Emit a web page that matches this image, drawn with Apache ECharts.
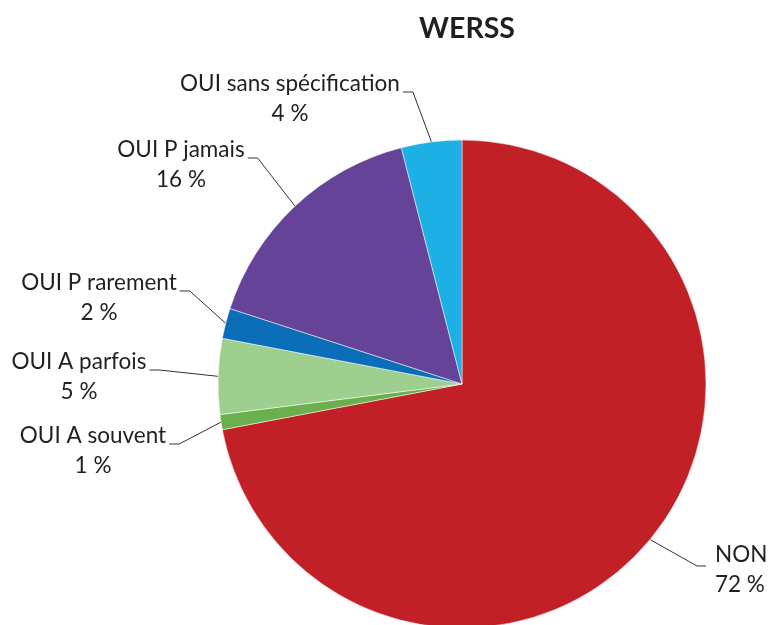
<!DOCTYPE html>
<html>
<head>
<meta charset="utf-8">
<script src="https://cdn.jsdelivr.net/npm/echarts@6/dist/echarts.min.js"></script>
<style>
html, body { margin: 0; padding: 0; background: #fff; }
#chart { width: 768px; height: 625px; }
</style>
</head>
<body>
<div id="chart"></div>
<script>
var categories = ['NON', 'OUI A souvent', 'OUI A parfois', 'OUI P rarement', 'OUI P jamais', 'OUI sans spécification'];
var values = [72, 1, 5, 2, 16, 4];
var colors = ['#c12027', '#6ab04c', '#9dd08f', '#0a6db7', '#644399', '#1cb0e4'];

// where each label sits: [x, y (middle of block), side]
var labelPos = [
    [715, 570, 'left'],
    [93, 451, 'right'],
    [79, 377, 'right'],
    [99, 298, 'right'],
    [181, 165, 'right'],
    [290, 99, 'right']
];

var dom = document.getElementById('chart');
var chart = echarts.init(dom);

var pieData = [];
for (var i = 0; i < categories.length; i++) {
    pieData.push({ name: categories[i], value: values[i], itemStyle: { color: colors[i] } });
}

var option = {
    animation: false,
    title: {
        text: 'WERSS',
        left: 462,
        top: 9,
        textAlign: 'center',
        textStyle: { fontFamily: 'Lato', fontWeight: 'bold', fontSize: 28.5, color: '#231f20' }
    },
    series: [{
        type: 'pie',
        center: [462, 384],
        radius: 244,
        startAngle: 90,
        clockwise: true,
        avoidLabelOverlap: false,
        data: pieData,
        itemStyle: { borderColor: '#ffffff', borderWidth: 0.5 },
        label: {
            show: true,
            position: 'outside',
            formatter: '{b}\n{c} %',
            fontFamily: 'Lato',
            fontSize: 22.5,
            lineHeight: 30,
            color: '#231f20',
            align: 'center'
        },
        labelLine: {
            show: true,
            length: 10,
            length2: 10,
            lineStyle: { color: '#333', width: 1 }
        },
        labelLayout: function (params) {
            var p = labelPos[params.dataIndex];
            var w = params.labelRect.width;
            var start = params.labelLinePoints ? params.labelLinePoints[0] : [p[0], p[1]];
            var ly = p[1] - 7;
            var endX, elbowX, align, x;
            if (p[2] === 'left') {
                align = 'left';
                x = p[0];
                endX = p[0] - 9;
                elbowX = endX - 9;
                ly = p[1] - 4;
            } else {
                align = 'center';
                x = p[0];
                endX = p[0] + w / 2 + 3;
                elbowX = endX + 10;
            }
            return {
                x: x,
                y: p[1],
                align: align,
                verticalAlign: 'middle',
                labelLinePoints: [start, [elbowX, ly], [endX, ly]]
            };
        }
    }]
};

chart.setOption(option, true);
</script>
</body>
</html>
